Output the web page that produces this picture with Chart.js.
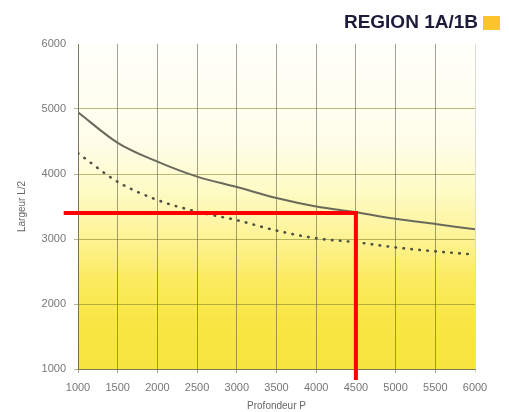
<!DOCTYPE html>
<html lang="fr">

<head>
    <meta charset="UTF-8">
    <title>Region 1A/1B</title>
    <script src="https://cdn.jsdelivr.net/npm/chart.js"></script>
    <style>
        body { margin: 0; background: #fff; }
        .grafico { width: 509px; height: 412px; }
    </style>
</head>

<body>
    <div class="grafico">
        <canvas id="myChart" width="509" height="412"></canvas>
    </div>
</body>

</html>

<script>
    var profondeur = [1000, 1500, 2000, 2500, 3000, 3500, 4000, 4500, 5000, 5500, 6000];
    var largeurTrait = [4950, 4480, 4190, 3960, 3800, 3630, 3500, 3410, 3310, 3230, 3150];
    var largeurPointille = [4320, 3880, 3600, 3420, 3290, 3130, 3010, 2950, 2870, 2810, 2760];

    // Repere rouge (lecture P = 4500 -> L/2 = 3400)
    var repereP = [820, 4500, 4500];
    var repereL = [3400, 3400, 830];

    var titre = 'REGION 1A/1B';

    function points(xs, ys) {
        var res = [];
        for (var i = 0; i < xs.length; i++) {
            res.push({ x: xs[i], y: ys[i] });
        }
        return res;
    }

    // fond degrade blanc -> jaune dans la zone du graphique
    const fondDegrade = {
        id: 'fondDegrade',
        beforeDraw(chart) {
            const { ctx, chartArea: a } = chart;
            let g = ctx.createLinearGradient(0, a.top, 0, a.bottom);
            g.addColorStop(0, '#fffffa');
            g.addColorStop(0.3, '#fffdea');
            g.addColorStop(0.45, '#fefbc6');
            g.addColorStop(0.6, '#fdf394');
            g.addColorStop(0.72, '#fbeb60');
            g.addColorStop(0.85, '#f9e644');
            g.addColorStop(1, '#f8e43e');
            ctx.save();
            ctx.fillStyle = g;
            ctx.fillRect(a.left, a.top, a.right - a.left, a.bottom - a.top);
            ctx.restore();
        }
    };

    // titre en haut a droite avec le petit carre jaune
    const titreRegion = {
        id: 'titreRegion',
        afterDraw(chart) {
            const ctx = chart.ctx;
            ctx.save();
            ctx.font = 'bold 19px "Liberation Sans", Arial, sans-serif';
            ctx.fillStyle = '#1d1d3b';
            ctx.textAlign = 'right';
            ctx.textBaseline = 'middle';
            ctx.fillText(titre, 478, 23);
            ctx.fillStyle = '#fdc52c';
            ctx.fillRect(483, 16, 17, 14);
            ctx.restore();
        }
    };

    const couleurTicks = '#777777';
    const policeTicks = { family: '"Liberation Sans", Arial, sans-serif', size: 11 };

    // pas de separateur de milliers
    function sansVirgule(v) { return String(v); }

    let dados = {
        datasets: [{
            label: 'repere',
            data: points(repereP, repereL),
            borderColor: '#ff0000',
            borderWidth: 4,
            pointRadius: 0,
            tension: 0,
            clip: false
        }, {
            label: 'trait',
            data: points(profondeur, largeurTrait),
            borderColor: '#6a6a5c',
            borderWidth: 2,
            pointRadius: 0,
            cubicInterpolationMode: 'monotone'
        }, {
            label: 'pointille',
            data: points(profondeur, largeurPointille),
            borderColor: '#4f4f45',
            borderWidth: 2.6,
            borderDash: [0.5, 7.5],
            borderCapStyle: 'round',
            pointRadius: 0,
            cubicInterpolationMode: 'monotone'
        }]
    };

    const config = {
        type: 'line',
        data: dados,
        plugins: [fondDegrade, titreRegion],
        options: {
            responsive: false,
            animation: false,
            layout: { padding: { left: 0, right: 34, top: 44, bottom: 0 } },
            plugins: {
                legend: { display: false },
                tooltip: { enabled: false }
            },
            scales: {
                x: {
                    type: 'linear',
                    min: 1000,
                    max: 6000,
                    afterFit: function (s) { s.height = 43; },
                    ticks: { stepSize: 500, color: couleurTicks, font: policeTicks, padding: 8, maxRotation: 0, callback: sansVirgule },
                    grid: {
                        color: function (c) { return c.tick && c.tick.value === 6000 ? 'rgba(80,80,50,0.2)' : 'rgba(70,70,50,0.5)'; },
                        tickLength: 4,
                        lineWidth: 1
                    },
                    border: { color: 'rgba(80,80,50,0.6)' },
                    title: {
                        display: true,
                        text: 'Profondeur P',
                        color: '#666666',
                        font: { family: '"Liberation Sans", Arial, sans-serif', size: 10 },
                        padding: { top: 0, bottom: 0 }
                    }
                },
                y: {
                    min: 1000,
                    max: 6000,
                    afterFit: function (s) { s.width = 78; },
                    ticks: { stepSize: 1000, color: couleurTicks, font: policeTicks, padding: 8, callback: sansVirgule },
                    grid: {
                        color: function (c) { return c.tick && c.tick.value === 6000 ? 'rgba(0,0,0,0)' : 'rgba(120,130,40,0.55)'; },
                        tickLength: 4,
                        lineWidth: 1
                    },
                    border: { color: 'rgba(80,80,50,0.5)' },
                    title: {
                        display: true,
                        text: 'Largeur L/2',
                        color: '#666666',
                        font: { family: '"Liberation Sans", Arial, sans-serif', size: 10 },
                        padding: { top: 16, bottom: 0 }
                    }
                }
            }
        }
    };

    let myChart = new Chart(document.getElementById('myChart'), config);
</script>
